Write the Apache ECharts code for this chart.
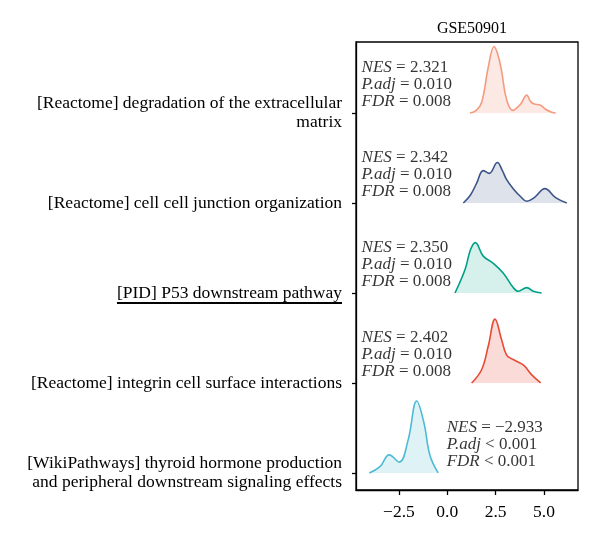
<!DOCTYPE html>
<html>
<head>
<meta charset="utf-8">
<script src="https://cdn.jsdelivr.net/npm/echarts@6/dist/echarts.min.js"></script>
<style>
html,body{margin:0;padding:0;background:#fff;}
#chart{width:600px;height:537px;}
</style>
</head>
<body>
<div id="chart"></div>
<script>
// ---------- data ----------
const title = 'GSE50901';
// categories listed from bottom row (index 0) to top row (index 4)
const categories = [
  '[WikiPathways] thyroid hormone production\nand peripheral downstream signaling effects',
  '[Reactome] integrin cell surface interactions',
  '[PID] P53 downstream pathway',
  '[Reactome] cell cell junction organization',
  '[Reactome] degradation of the extracellular\nmatrix'
];
const xTickValues = [-2.5, 0, 2.5, 5];
const xTickLabels = ['\u22122.5', '0.0', '2.5', '5.0'];

// density curves (x = enrichment score, h = relative density height)
const thyroidX = [-4.03, -3.48, -3.0, -2.48, -2.02, -1.58, -1.21, -0.89, -0.47];
const thyroidH = [0, 0.07, 0.20, 0.12, 0.37, 0.80, 0.56, 0.19, 0];
const integrinX = [1.26, 1.78, 2.12, 2.47, 2.81, 3.07, 3.41, 3.93, 4.37, 4.83];
const integrinH = [0, 0.15, 0.41, 0.71, 0.48, 0.31, 0.26, 0.20, 0.09, 0];
const p53X = [0.40, 0.92, 1.2, 1.45, 1.86, 2.38, 2.90, 3.41, 3.67, 4.11, 4.45, 4.88];
const p53H = [0, 0.26, 0.48, 0.56, 0.41, 0.33, 0.22, 0.06, 0.02, 0.06, 0.02, 0];
const junctionX = [0.83, 1.2, 1.52, 1.86, 2.17, 2.59, 2.85, 3.07, 3.41, 3.8, 4.11, 4.5, 5.05, 5.6, 6.18];
const junctionH = [0, 0.09, 0.22, 0.36, 0.33, 0.45, 0.36, 0.26, 0.16, 0.07, 0.02, 0.06, 0.16, 0.06, 0];
const ecmX = [1.17, 1.5, 1.78, 2.12, 2.42, 2.6, 2.8, 3.0, 3.2, 3.4, 3.6, 3.8, 4.11, 4.3, 4.5, 4.8, 5.1, 5.4, 5.61];
const ecmH = [0, 0.03, 0.12, 0.51, 0.74, 0.66, 0.48, 0.21, 0.07, 0.03, 0.06, 0.10, 0.20, 0.13, 0.10, 0.09, 0.04, 0.01, 0];

const nesValues = ['\u22122.933', '2.402', '2.350', '2.342', '2.321'];
const padjValues = ['< 0.001', '= 0.010', '= 0.010', '= 0.010', '= 0.010'];
const fdrValues = ['< 0.001', '= 0.008', '= 0.008', '= 0.008', '= 0.008'];

// ---------- styling ----------
const FONT = '"Liberation Serif", "DejaVu Serif", serif';
const LABEL_SIZE = 17.5;
const TEXT = '#000';
const colors = ['#4DBBD5', '#E64B35', '#00A087', '#3C5488', '#F39B7F'];
const fills = ['rgba(77,187,213,0.18)', 'rgba(230,75,53,0.2)', 'rgba(0,160,135,0.16)', 'rgba(60,84,136,0.17)', 'rgba(243,155,127,0.22)'];
const ridges = [[thyroidX, thyroidH], [integrinX, integrinH], [p53X, p53H], [junctionX, junctionH], [ecmX, ecmH]];

const series = ridges.map(function (r, i) {
  return {
    type: 'line',
    smooth: 0.4,
    symbol: 'none',
    data: r[0].map(function (x, k) { return [x, i + r[1][k]]; }),
    lineStyle: { color: colors[i], width: 1.6 },
    areaStyle: { color: fills[i], origin: i, opacity: 1 },
    z: 3
  };
});

// annotation anchors
const annX = [-0.03, -4.43, -4.43, -4.43, -4.43];
const annData = categories.map(function (c, i) {
  return {
    value: [annX[i], i + 0.318],
    label: {
      formatter: '{i|NES} = ' + nesValues[i] + '\n{i|P.adj} ' + padjValues[i] + '\n{i|FDR} ' + fdrValues[i]
    }
  };
});
series.push({
  type: 'scatter',
  symbolSize: 0,
  data: annData,
  silent: true,
  clip: false,
  z: 5,
  label: {
    show: true,
    position: 'right',
    distance: 0,
    align: 'left',
    verticalAlign: 'middle',
    fontFamily: FONT,
    fontSize: 17,
    lineHeight: 17,
    color: TEXT,
    rich: { i: { fontStyle: 'italic', fontFamily: FONT, fontSize: 17, lineHeight: 17, color: TEXT } }
  }
});

const chart = echarts.init(document.getElementById('chart'), null, { renderer: 'canvas' });
const gridL = 356, gridR = 22, gridT = 42, gridB = 47;
const LABEL_MARGIN = 14;
const option = {
  animation: false,
  backgroundColor: '#fff',
  title: {
    text: title, left: 467, top: 16, textAlign: 'center',
    textStyle: { fontFamily: FONT, fontSize: 16, fontWeight: 'normal', color: TEXT }
  },
  grid: { left: gridL, right: gridR, top: gridT, bottom: gridB, show: true, borderColor: '#000', borderWidth: 1.3, backgroundColor: 'transparent' },
  xAxis: {
    type: 'value', min: -4.72, max: 6.76,
    axisLine: { show: true, onZero: false, lineStyle: { color: '#000', width: 1.3 } },
    axisTick: { show: true, length: 5, customValues: xTickValues, lineStyle: { color: '#000', width: 1.3 } },
    axisLabel: {
      customValues: xTickValues, margin: 13, fontFamily: FONT, fontSize: 17.5, color: TEXT,
      formatter: function (v) { const k = xTickValues.indexOf(v); return k >= 0 ? xTickLabels[k] : ''; }
    },
    splitLine: { show: false }
  },
  yAxis: {
    type: 'value', min: -0.19, max: 4.79,
    axisLine: { show: true, onZero: false, lineStyle: { color: '#000', width: 1.3 } },
    axisTick: { show: true, length: 4, customValues: [0, 1, 2, 3, 4], lineStyle: { color: '#000', width: 1.3 } },
    axisLabel: {
      customValues: [0, 1, 2, 3, 4], margin: LABEL_MARGIN, fontFamily: FONT, fontSize: LABEL_SIZE, lineHeight: 18.5, color: TEXT, align: 'right',
      formatter: function (v) { return categories[Math.round(v)]; }
    },
    splitLine: { show: false }
  },
  series: series
};
chart.setOption(option);

// underline below the highlighted pathway label
(function () {
  const ctx = document.createElement('canvas').getContext('2d');
  ctx.font = LABEL_SIZE + 'px ' + FONT;
  const w = ctx.measureText(categories[2]).width;
  const y = chart.convertToPixel({ yAxisIndex: 0 }, 2);
  const right = gridL - LABEL_MARGIN;
  chart.setOption({
    graphic: [{
      type: 'line', silent: true,
      shape: { x1: right - w, y1: y + 10, x2: right, y2: y + 10 },
      style: { stroke: '#000', lineWidth: 1.8 }
    }]
  });
})();
</script>
</body>
</html>
